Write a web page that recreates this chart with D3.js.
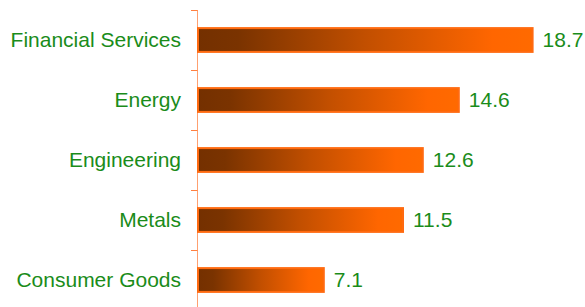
<!DOCTYPE html>
<html>
<head>
<meta charset="utf-8">
<script src="https://cdn.jsdelivr.net/npm/d3@7"></script>
<style>
  body { margin: 0; background: #fff; }
  text { font-family: Arial, "Liberation Sans", sans-serif; }
</style>
</head>
<body>
<div id="chart"></div>
<script>
const categories = ["Financial Services", "Energy", "Engineering", "Metals", "Consumer Goods"];
const values = [18.7, 14.6, 12.6, 11.5, 7.1];

const width = 585, height = 307;
const svg = d3.select("#chart").append("svg")
    .attr("width", width).attr("height", height);

const x = d3.scaleLinear().domain([0, 20]).range([197, 557]);
const y = d3.scaleBand().domain(categories).range([10, 310])
    .paddingInner(0.57).paddingOuter(0.285);

const defs = svg.append("defs");
const grad = defs.append("linearGradient").attr("id", "barGrad")
    .attr("x1", "0%").attr("x2", "100%").attr("y1", "0").attr("y2", "0");
grad.append("stop").attr("offset", "0%").attr("stop-color", "#743000");
grad.append("stop").attr("offset", "12%").attr("stop-color", "#7a3300");
grad.append("stop").attr("offset", "50%").attr("stop-color", "#c24f00");
grad.append("stop").attr("offset", "88%").attr("stop-color", "#ff6600");
grad.append("stop").attr("offset", "100%").attr("stop-color", "#ff6a00");

// axis line + ticks at band boundaries
const step = y.step();
const tickYs = d3.range(categories.length + 1).map(function(i) { return 10 + i * step; });
svg.append("line")
    .attr("x1", 197.5).attr("x2", 197.5).attr("y1", 10).attr("y2", height)
    .attr("stroke", "#ffa070").attr("stroke-width", 1);
svg.append("g").selectAll("line").data(tickYs).enter().append("line")
    .attr("x1", 191).attr("x2", 197.5)
    .attr("y1", function(d) { return d + 0.5; }).attr("y2", function(d) { return d + 0.5; })
    .attr("stroke", "#ff8040").attr("stroke-width", 1);

svg.append("g").selectAll("rect").data(values).enter().append("rect")
    .attr("x", x(0) + 1)
    .attr("y", function(d, i) { return y(categories[i]) + 1; })
    .attr("width", function(d) { return x(d) - x(0) - 2; })
    .attr("height", y.bandwidth() - 2)
    .attr("fill", "url(#barGrad)")
    .attr("stroke", "#ff6a10")
    .attr("stroke-width", 2);

svg.append("g").selectAll("text").data(values).enter().append("text")
    .attr("x", function(d) { return x(d) + 9; })
    .attr("y", function(d, i) { return y(categories[i]) + y.bandwidth() / 2; })
    .attr("dy", "0.35em")
    .attr("fill", "#1a8c1a")
    .style("font-size", "21px")
    .text(function(d) { return d.toFixed(1); });

svg.append("g").selectAll("text").data(categories).enter().append("text")
    .attr("x", 181)
    .attr("y", function(d) { return y(d) + y.bandwidth() / 2; })
    .attr("dy", "0.35em")
    .attr("text-anchor", "end")
    .attr("fill", "#1a8c1a")
    .style("font-size", "21px")
    .text(function(d) { return d; });
</script>
</body>
</html>
